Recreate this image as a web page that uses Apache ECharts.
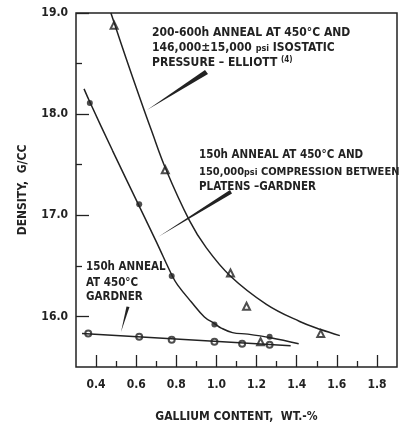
<!DOCTYPE html>
<html>
<head>
<meta charset="utf-8">
<script src="https://cdn.jsdelivr.net/npm/echarts@6/dist/echarts.min.js"></script>
<style>
  html, body { margin: 0; padding: 0; background: #fff; }
  #chart { width: 404px; height: 428px; }
</style>
</head>
<body>
<div id="chart"></div>
<script>
// tick positions
const xMajorTicks = [0.4, 0.6, 0.8, 1.0, 1.2, 1.4, 1.6, 1.8];
const xMinorTicks = [0.5, 0.7, 0.9, 1.1, 1.3, 1.5, 1.7];
const yMajorTicks = [16, 17, 18, 19];
const yMinorTicks = [16.5, 17.5, 18.5];

// 200-600h anneal, isostatic pressure (Elliott) - triangles
const elliottX = [0.49, 0.745, 1.07, 1.15, 1.22, 1.52];
const elliottY = [18.88, 17.45, 16.43, 16.10, 15.75, 15.83];
const elliottCurveX = [0.474, 0.55, 0.62, 0.674, 0.749, 0.865, 0.949, 1.069, 1.249, 1.415, 1.52, 1.615];
const elliottCurveY = [19.0, 18.55, 18.15, 17.85, 17.45, 16.95, 16.68, 16.40, 16.12, 15.95, 15.87, 15.81];

// 150h anneal + compression between platens (Gardner) - filled circles
const platensX = [0.369, 0.615, 0.777, 0.99, 1.265];
const platensY = [18.11, 17.11, 16.40, 15.92, 15.80];
const platensCurveX = [0.34, 0.369, 0.482, 0.615, 0.70, 0.78, 0.807, 0.874, 0.94, 0.99, 1.024, 1.08, 1.157, 1.27, 1.41];
const platensCurveY = [18.25, 18.12, 17.64, 17.09, 16.74, 16.40, 16.31, 16.145, 15.995, 15.93, 15.885, 15.84, 15.825, 15.79, 15.73];

// 150h anneal only (Gardner) - open circles
const annealX = [0.361, 0.615, 0.777, 0.99, 1.128, 1.265];
const annealY = [15.83, 15.80, 15.77, 15.75, 15.73, 15.72];
const annealLineX = [0.33, 1.37];
const annealLineY = [15.83, 15.71];

const ink = "#222";
const font = '"DejaVu Sans Condensed", "DejaVu Sans", sans-serif';

const zip = (xs, ys) => xs.map((x, i) => [x, ys[i]]);

function label(x, y, text, size, rich) {
  return {
    type: "text",
    x: x,
    y: y,
    style: {
      text: text,
      fill: ink,
      font: "bold " + (size || 12) + "px " + font,
      verticalAlign: "middle",
      rich: rich || {},
    },
  };
}

const smallRich = {
  s: { fontSize: 9, fontWeight: "bold", fontFamily: font, fill: ink, padding: [2, 0, 0, 0] },
  sup: { fontSize: 8, fontWeight: "bold", fontFamily: font, fill: ink, padding: [0, 0, 6, 0] },
};

const chart = echarts.init(document.getElementById("chart"));
chart.setOption({
  backgroundColor: "#fff",
  animation: false,
  grid: { left: 76, right: 7, top: 13, bottom: 60, show: true, borderColor: ink, borderWidth: 1.5 },
  xAxis: [
    {
      type: "value",
      min: 0.3,
      max: 1.9,
      axisLine: { show: false },
      splitLine: { show: false },
      axisTick: { inside: true, length: 12, customValues: xMajorTicks, lineStyle: { color: ink, width: 1.3 } },
      axisLabel: {
        customValues: xMajorTicks,
        formatter: (v) => v.toFixed(1),
        color: ink,
        fontFamily: font,
        fontWeight: "bold",
        fontSize: 12,
        margin: 12,
      },
      name: "GALLIUM CONTENT,  WT.-%",
      nameLocation: "middle",
      nameGap: 44,
      nameTextStyle: { color: ink, fontFamily: font, fontWeight: "bold", fontSize: 12 },
    },
    {
      type: "value",
      position: "bottom",
      min: 0.3,
      max: 1.9,
      axisLine: { show: false },
      splitLine: { show: false },
      axisLabel: { show: false },
      axisTick: { inside: true, length: 6, customValues: xMinorTicks, lineStyle: { color: ink, width: 1.3 } },
    },
  ],
  yAxis: [
    {
      type: "value",
      min: 15.5,
      max: 19.0,
      axisLine: { show: false },
      splitLine: { show: false },
      axisTick: { inside: true, length: 13, customValues: yMajorTicks, lineStyle: { color: ink, width: 1.3 } },
      axisLabel: {
        customValues: yMajorTicks,
        formatter: (v) => v.toFixed(1),
        color: ink,
        fontFamily: font,
        fontWeight: "bold",
        fontSize: 12,
        margin: 8,
      },
      name: "DENSITY,  G/CC",
      nameLocation: "middle",
      nameGap: 47,
      nameRotate: 90,
      nameTextStyle: { color: ink, fontFamily: font, fontWeight: "bold", fontSize: 12 },
    },
    {
      type: "value",
      position: "left",
      min: 15.5,
      max: 19.0,
      axisLine: { show: false },
      splitLine: { show: false },
      axisLabel: { show: false },
      axisTick: { inside: true, length: 6, customValues: yMinorTicks, lineStyle: { color: ink, width: 1.3 } },
    },
  ],
  series: [
    {
      type: "line",
      data: zip(elliottCurveX, elliottCurveY),
      smooth: 0.4,
      showSymbol: false,
      lineStyle: { color: ink, width: 1.5 },
    },
    {
      type: "scatter",
      data: zip(elliottX, elliottY),
      symbol: "emptyTriangle",
      symbolSize: 7,
      itemStyle: { color: ink, borderColor: ink, borderWidth: 1.3 },
    },
    {
      type: "line",
      data: zip(platensCurveX, platensCurveY),
      smooth: 0.4,
      showSymbol: false,
      lineStyle: { color: ink, width: 1.5 },
    },
    {
      type: "scatter",
      data: zip(platensX, platensY),
      symbol: "circle",
      symbolSize: 6,
      itemStyle: { color: ink },
    },
    {
      type: "line",
      data: zip(annealLineX, annealLineY),
      showSymbol: false,
      lineStyle: { color: ink, width: 1.5 },
    },
    {
      type: "scatter",
      data: zip(annealX, annealY),
      symbol: "emptyCircle",
      symbolSize: 6,
      itemStyle: { color: ink, borderColor: ink, borderWidth: 1.3 },
    },
  ],
  graphic: [
    label(152, 33, "200-600h ANNEAL AT 450°C AND"),
    label(152, 48, "146,000±15,000 {s|psi} ISOSTATIC", 12, smallRich),
    label(152, 63, "PRESSURE – ELLIOTT {sup|(4)}", 12, smallRich),
    label(199, 155, "150h ANNEAL AT 450°C AND", 11.5),
    label(199, 172, "150,000{s|psi} COMPRESSION BETWEEN", 11, smallRich),
    label(199, 187, "PLATENS –GARDNER", 11.5),
    label(86, 267, "150h ANNEAL", 11.5),
    label(86, 283, "AT 450°C", 11.5),
    label(86, 297, "GARDNER", 11.5),
    // leader wedges
    { type: "polygon", shape: { points: [[147, 110], [205, 70], [208, 74]] }, style: { fill: ink } },
    { type: "polygon", shape: { points: [[158, 237], [230, 190], [232, 193.5]] }, style: { fill: ink } },
    { type: "polygon", shape: { points: [[121, 332], [126.5, 306.5], [129.5, 307]] }, style: { fill: ink } },
  ],
});
</script>
</body>
</html>
